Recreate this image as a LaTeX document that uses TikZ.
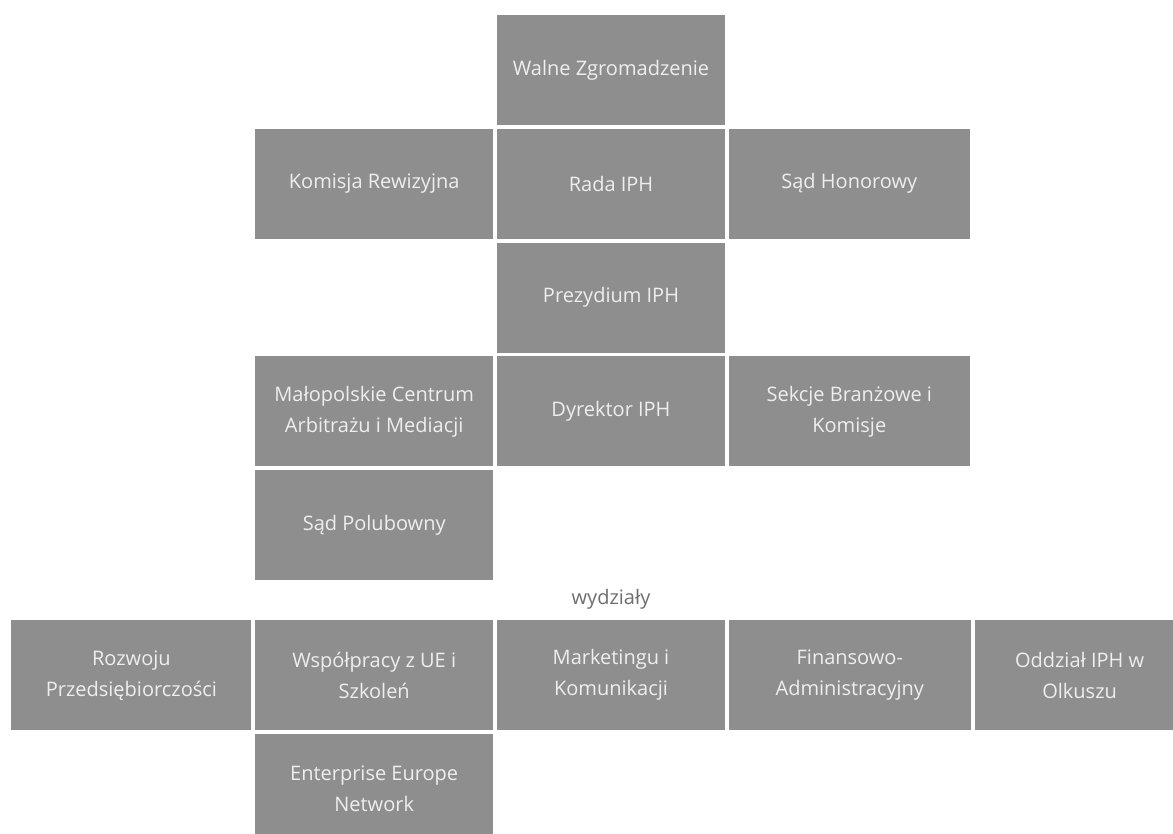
\documentclass[tikz,border=0pt]{standalone}
\usepackage{fontspec}
\setmainfont{Open Sans}
\usepackage{tikz}
\usetikzlibrary{positioning}
\definecolor{boxgray}{HTML}{8E8E8E}
\definecolor{boxtext}{HTML}{EEEEEE}
\definecolor{labelgray}{HTML}{6E6E6E}

\begin{document}
\begin{tikzpicture}[node distance=1.5pt,
    unit/.style={rectangle, fill=boxgray, text=boxtext, inner sep=0pt, minimum height=55pt, align=center, font=\fontsize{10}{15.5}\selectfont}]
        \clip (0,0) rectangle (586.5pt,-417pt);
        \node (walne) [unit, minimum width=114pt] at (305.5pt,-35pt) {Walne Zgromadzenie};
        \node (rada) [unit, minimum width=114pt, below=of walne] {Rada IPH};
        \node (komisja) [unit, minimum width=119pt, left=of rada] {Komisja Rewizyjna};
        \node (honorowy) [unit, minimum width=120.5pt, right=of rada] {Sąd Honorowy};
        \node (prezydium) [unit, minimum width=114pt, below=of rada] {Prezydium IPH};
        \node (dyrektor) [unit, minimum width=114pt, below=of prezydium] {Dyrektor IPH};
        \node (centrum) [unit, minimum width=119pt, left=of dyrektor] {Małopolskie Centrum\\Arbitrażu i Mediacji};
        \node (sekcje) [unit, minimum width=120.5pt, right=of dyrektor] {Sekcje Branżowe i\\Komisje};
        \node (polubowny) [unit, minimum width=119pt, below=of centrum] {Sąd Polubowny};

        \node (marketing) [unit, minimum width=114pt, below=76.5pt of dyrektor] {Marketingu i\\Komunikacji};
        \node (wydzialy) [above=7.5pt of marketing, anchor=base, inner sep=0pt, text=labelgray, font=\fontsize{10}{12}\selectfont] {wydziały};
        \node (wspolpraca) [unit, minimum width=119pt, left=of marketing] {Współpracy z UE i\\Szkoleń};
        \node (rozwoj) [unit, minimum width=120pt, left=of wspolpraca] {Rozwoju\\Przedsiębiorczości};
        \node (finanse) [unit, minimum width=121pt, right=of marketing] {Finansowo-\\Administracyjny};
        \node (olkusz) [unit, minimum width=105pt, right=of finanse] {Oddział IPH w\\Olkuszu};
        \node (een) [unit, minimum width=119pt, below=of wspolpraca] {Enterprise Europe\\Network};
    \end{tikzpicture}
\end{document}
